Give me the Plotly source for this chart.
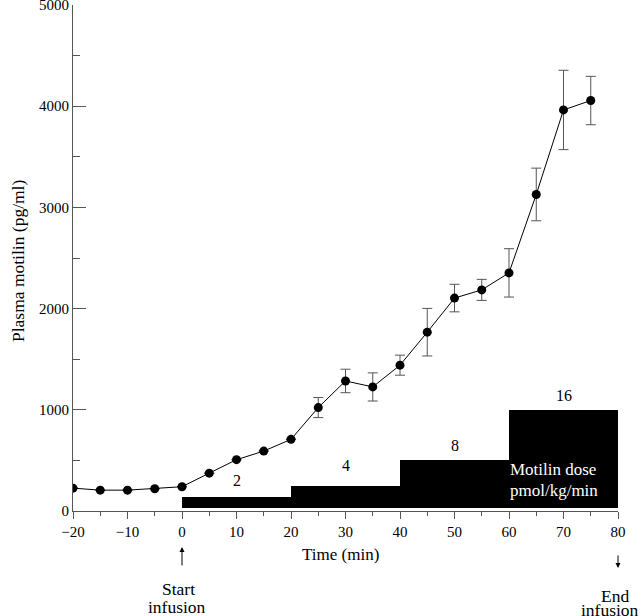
import plotly.graph_objects as go

# ---- data ----
time_min = [-20, -15, -10, -5, 0, 5, 10, 15, 20, 25, 30, 35, 40, 45, 50, 55, 60, 65, 70, 75]
motilin = [226, 206, 206, 220, 240, 374, 507, 592, 708, 1022, 1285, 1226, 1441, 1767,
           2104, 2185, 2353, 3128, 3963, 4056]
sem = [None, None, None, None, None, None, None, None, None, 99, 116, 139, 99, 235,
       136, 104, 239, 260, 392, 239]

dose_centers = [10, 30, 50, 70]
dose_labels = ["2", "4", "8", "16"]
dose_block_top = [140, 250, 500, 1000]
dose_block_base = 25
dose_label_y = [306, 445, 649, 1143]

FONT = "Liberation Serif"
AX = "#555555"

fig = go.Figure()

# dose blocks
fig.add_trace(go.Bar(
    x=dose_centers,
    y=[t - dose_block_base for t in dose_block_top],
    base=[dose_block_base] * len(dose_centers),
    width=[20] * len(dose_centers),
    marker=dict(color="black", line=dict(width=0)),
    showlegend=False, hoverinfo="skip",
))

# plasma motilin
fig.add_trace(go.Scatter(
    x=time_min, y=motilin, mode="lines+markers",
    line=dict(color="black", width=1),
    marker=dict(color="black", size=9),
    error_y=dict(type="data", array=sem, visible=True, color=AX, thickness=1, width=5),
    showlegend=False,
))


def txt(x, y, text, xref="x", yref="paper", size=17.5, color="black", **kw):
    return dict(x=x, y=y, xref=xref, yref=yref, text=text, showarrow=False,
                xanchor="center", yanchor="middle",
                font=dict(family=FONT, size=size, color=color), **kw)


annotations = []
for xc, lab, ly in zip(dose_centers, dose_labels, dose_label_y):
    annotations.append(txt(xc, ly, lab, yref="y", size=16))
annotations.append(txt(68.1, 409, "Motilin dose", yref="y", size=17, color="white"))
annotations.append(txt(68.2, 200, "pmol/kg/min", yref="y", size=17, color="white"))

# axis titles
annotations.append(txt(0.4917, -0.085, "Time (min)", xref="paper", size=17))
annotations.append(txt(-0.1009, 0.494, "Plasma motilin (pg/ml)", xref="paper", size=17.5,
                       textangle=-90))

# arrows
annotations.append(dict(x=0, y=-0.0711, xref="x", yref="paper", text="", showarrow=True,
                        ax=0, ay=20, arrowhead=2, arrowsize=1, arrowwidth=1, arrowcolor="black"))
annotations.append(dict(x=80, y=-0.1126, xref="x", yref="paper", text="", showarrow=True,
                        ax=0, ay=-14, arrowhead=2, arrowsize=1, arrowwidth=1, arrowcolor="black"))
# start / end text
annotations.append(txt(-0.6, -0.154, "Start"))
annotations.append(txt(-1.0, -0.190, "infusion"))
annotations.append(txt(79.4, -0.168, "End"))
annotations.append(txt(78.5, -0.196, "infusion"))

fig.update_layout(
    width=640, height=616,
    margin=dict(l=73, r=22, t=5, b=105),
    paper_bgcolor="white", plot_bgcolor="white",
    font=dict(family=FONT, color="black"),
    annotations=annotations,
    bargap=0,
)
fig.update_xaxes(
    range=[-20, 80], showline=True, linecolor=AX, linewidth=1,
    ticks="outside", ticklen=7, tickwidth=1, tickcolor=AX,
    tick0=0, dtick=10,
    minor=dict(dtick=5, ticks="outside", ticklen=4, tickwidth=1, tickcolor=AX, showgrid=False),
    showgrid=False, zeroline=False, automargin=False, ticklabeloverflow="allow",
    tickfont=dict(family=FONT, size=15, color="black"),
)
fig.update_yaxes(
    range=[0, 5000], showline=True, linecolor=AX, linewidth=1,
    ticks="inside", ticklen=13, tickwidth=1, tickcolor=AX,
    tick0=0, dtick=1000,
    minor=dict(dtick=500, ticks="inside", ticklen=7, tickwidth=1, tickcolor=AX, showgrid=False),
    showgrid=False, zeroline=False, automargin=False, ticklabeloverflow="allow",
    tickfont=dict(family=FONT, size=15, color="black"),
)

fig.write_html("out.html", config={"displayModeBar": False},
               post_script="document.body.style.margin='0';document.body.style.overflow='hidden';")
